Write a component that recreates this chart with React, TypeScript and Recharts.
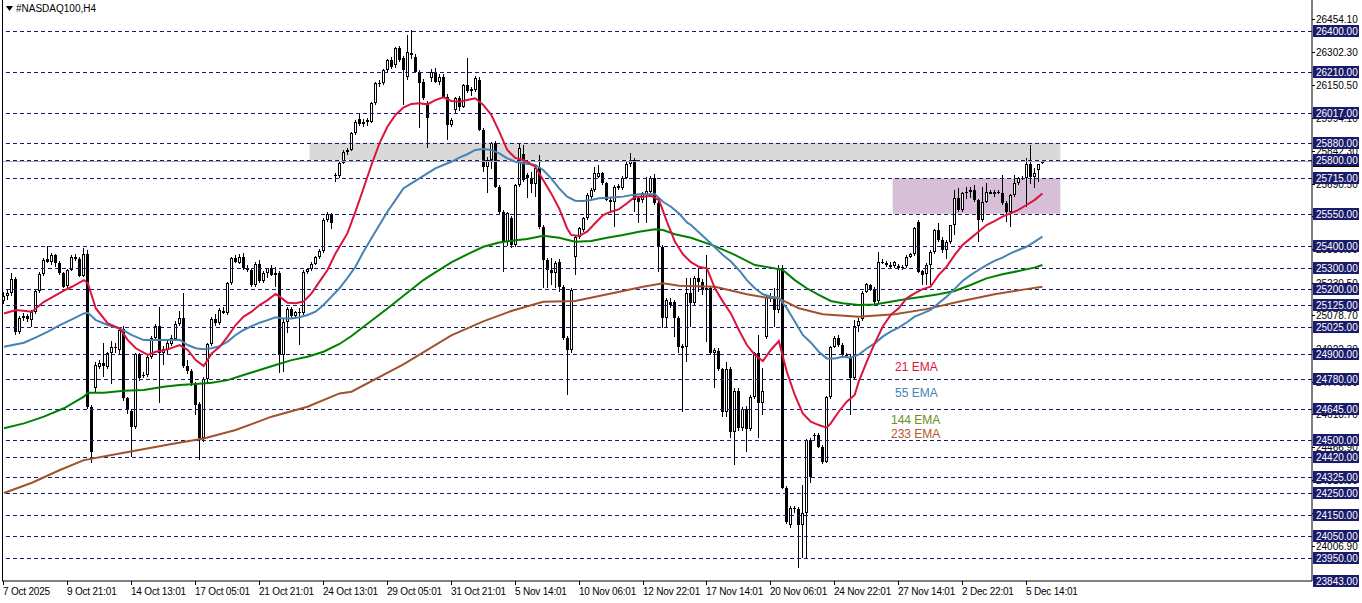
import React from 'react';
import { ComposedChart, Bar, Line, XAxis, YAxis, ReferenceLine, ReferenceArea } from 'recharts';

// ---- OHLC (H4 bars, index 0 = 7 Oct 2025) ----
const opens = [25145,25170,25180,25245,25002,25064,25075,25058,25095,25190,25270,25340,25325,25358,25322,25276,25215,25290,25348,25340,25262,25363,24650,24739,24840,24855,24840,24905,24930,24915,25013,24692,24633,24560,24898,24795,24800,24886,24971,25028,24905,24918,24945,24970,25040,25064,24842,24819,24757,24664,24506,24780,24945,25060,25041,25100,25090,25227,25343,25323,25351,25297,25289,25219,25315,25239,25275,25297,25266,25273,24894,25049,25106,25075,25095,25087,25281,25292,25317,25348,25377,25521,25549,25726,25726,25785,25839,25847,25924,25990,25966,25975,25979,26064,26157,26160,26219,26265,26240,26319,26273,26188,26300,26281,26211,26161,26064,26180,26211,26164,26188,26095,25963,26033,26087,26045,26149,26120,26126,26170,25940,25769,25800,25878,25676,25560,25421,25529,25405,25684,25830,25730,25715,25690,25769,25490,25335,25289,25273,25327,25211,24971,24917,25351,25444,25475,25529,25630,25661,25723,25738,25692,25614,25607,25672,25668,25718,25780,25800,25622,25614,25637,25653,25715,25599,25397,25064,25141,25141,25064,24935,24932,25180,25134,25253,25235,25196,25204,24901,24912,24828,24627,24828,24534,24726,24553,24643,24549,24700,24901,24669,24979,25170,25160,25103,25297,24274,24103,24181,24177,24103,24157,24498,24515,24522,24467,24398,24700,24932,24971,24940,24894,24886,24788,25030,25060,25188,25219,25200,25145,25327,25320,25312,25309,25309,25304,25309,25351,25362,25510,25284,25269,25312,25374,25475,25428,25382,25420,25498,25622,25568,25645,25653,25661,25614,25521,25606,25650,25644,25650,25645,25599,25560,25637,25692,25715,25715,25780,25723,25754,25788];
const highs = [25185,25195,25275,25255,25075,25090,25085,25105,25200,25280,25345,25400,25370,25365,25330,25280,25295,25360,25365,25350,25390,25380,24660,24860,24870,24948,24910,24960,24950,25020,25030,24700,24645,24905,24905,24815,24895,24980,25040,25118,24935,24960,24985,25050,25100,25180,24870,24830,24770,24675,24790,24950,25070,25085,25110,25115,25235,25350,25360,25365,25370,25310,25300,25325,25335,25285,25300,25310,25304,25285,25060,25115,25115,25100,25110,25290,25300,25325,25355,25385,25530,25560,25556,25740,25790,25845,25855,25930,25985,26017,25990,25995,26070,26165,26170,26225,26270,26280,26325,26330,26285,26381,26405,26295,26220,26175,26075,26225,26230,26200,26200,26105,25995,26095,26100,26155,26273,26140,26190,26185,25950,25815,25885,25890,25685,25570,25560,25540,25690,25873,25870,25740,25746,25770,25823,25500,25345,25343,25330,25340,25220,24980,25205,25450,25490,25535,25645,25670,25769,25777,25745,25700,25625,25685,25690,25725,25790,25831,25810,25630,25650,25723,25725,25735,25610,25405,25160,25157,25150,25075,24945,25250,25250,25260,25297,25245,25359,25215,24925,24925,24835,24863,24840,24740,24740,24650,24655,24710,24910,24987,24832,25170,25180,25204,25312,25312,24285,24190,24190,24185,24289,24505,24510,24530,24530,24475,24705,24935,24980,24985,24950,24905,24900,25055,25065,25190,25230,25225,25210,25374,25340,25330,25325,25330,25315,25310,25360,25370,25490,25520,25290,25320,25380,25480,25506,25440,25430,25500,25660,25668,25650,25676,25676,25684,25620,25676,25692,25660,25660,25660,25730,25610,25640,25730,25720,25725,25808,25870,25761,25782,25800];
const lows = [25130,25150,25170,24985,24990,25050,25045,25025,25085,25180,25260,25320,25310,25305,25265,25205,25205,25285,25330,25255,25255,24645,24390,24720,24830,24793,24830,24760,24905,24900,24680,24620,24421,24550,24775,24785,24790,24875,24960,24669,24845,24900,24935,24960,25030,24835,24805,24750,24615,24405,24490,24760,24935,25030,25035,25085,25080,25220,25320,25315,25290,25280,25210,25210,25230,25230,25250,25260,25211,24810,24815,24997,25065,25060,24940,25080,25270,25285,25310,25340,25370,25510,25480,25700,25715,25780,25825,25840,25915,25960,25955,25960,25970,26055,26140,26150,26210,26225,26230,26255,26056,26170,26270,26205,25947,26080,25855,26165,26160,26150,26090,25893,25955,26020,26030,26040,26110,26100,26115,25935,25746,25645,25760,25670,25550,25281,25400,25390,25395,25675,25700,25622,25645,25630,25480,25203,25203,25219,25203,25188,24965,24707,24905,25265,25435,25465,25520,25620,25650,25715,25685,25610,25560,25490,25660,25660,25710,25770,25560,25506,25600,25506,25645,25590,25280,25017,25017,25110,24979,24901,24630,24862,25025,25120,25188,25173,24956,24895,24739,24820,24607,24607,24509,24382,24540,24540,24444,24540,24690,24506,24615,24970,25140,25025,25090,24270,24110,24090,24160,23902,23948,23950,24300,24500,24460,24385,24390,24690,24925,24930,24890,24880,24615,24780,25000,25050,25180,25190,25130,25135,25315,25305,25300,25300,25290,25290,25300,25345,25355,25275,25220,25220,25220,25365,25420,25370,25340,25410,25452,25560,25560,25620,25622,25605,25420,25513,25600,25640,25630,25640,25590,25513,25490,25630,25685,25705,25583,25690,25670,25700,25780];
const closes = [25170,25180,25245,25002,25064,25075,25060,25095,25193,25270,25335,25328,25358,25320,25274,25211,25289,25348,25340,25262,25363,24653,24444,24847,24855,24842,24901,24930,24925,25010,24692,24638,24560,24898,24785,24803,24886,24971,25028,24901,24920,24948,24971,25040,25064,24842,24819,24762,24661,24506,24780,24945,25060,25041,25103,25090,25227,25343,25328,25351,25297,25289,25219,25315,25239,25276,25297,25266,25273,24894,25049,25106,25075,25095,25087,25281,25292,25317,25348,25377,25521,25549,25506,25731,25785,25839,25847,25924,25979,25966,25975,25986,26064,26157,26152,26219,26265,26234,26319,26265,26219,26304,26290,26211,26157,26087,25997,26211,26164,26188,26095,25963,25986,26087,26045,26149,26120,26130,26180,25940,25769,25800,25878,25676,25560,25421,25552,25405,25684,25855,25707,25715,25690,25761,25490,25335,25289,25273,25320,25211,24971,24917,25196,25444,25482,25529,25637,25661,25738,25738,25692,25614,25607,25676,25681,25718,25780,25800,25614,25607,25645,25656,25715,25599,25397,25064,25149,25125,25064,24932,24928,25180,25134,25253,25235,25196,25204,24901,24917,24828,24627,24828,24534,24726,24553,24643,24549,24700,24901,24669,24726,25165,25160,25103,25297,24274,24119,24181,24177,24103,24157,24498,24328,24522,24467,24398,24700,24932,24971,24940,24894,24890,24788,25030,25050,25180,25222,25196,25141,25327,25320,25312,25304,25324,25296,25296,25351,25362,25482,25281,25265,25312,25374,25475,25428,25382,25420,25498,25622,25568,25645,25653,25661,25614,25521,25606,25650,25641,25650,25653,25599,25560,25637,25692,25715,25710,25780,25723,25738,25782,25796];

// ---- moving averages, sampled [barIndex, value] ----
const ema21: [number, number][] = [[0,25087],[3,25103],[7,25095],[10,25141],[15,25193],[17,25211],[20,25242],[21,25227],[23,25110],[26,25041],[29,25017],[31,24963],[33,24925],[36,24894],[38,24909],[41,24920],[44,24940],[46,24917],[48,24870],[50,24842],[52,24901],[54,24932],[56,24979],[58,25033],[60,25072],[62,25095],[64,25126],[66,25149],[68,25177],[69,25165],[71,25137],[73,25134],[75,25142],[77,25180],[79,25235],[81,25289],[83,25366],[85,25428],[86,25460],[88,25560],[90,25668],[92,25777],[94,25878],[96,25955],[98,26010],[100,26044],[102,26061],[104,26064],[106,26059],[108,26079],[110,26092],[112,26075],[114,26071],[116,26079],[118,26087],[120,26056],[122,26010],[124,25932],[126,25847],[128,25810],[130,25800],[131,25792],[133,25769],[135,25707],[137,25645],[139,25575],[141,25482],[142,25452],[144,25447],[146,25467],[148,25506],[150,25544],[152,25560],[154,25572],[156,25599],[158,25630],[160,25630],[162,25634],[164,25614],[166,25513],[168,25420],[170,25362],[172,25325],[174,25304],[176,25297],[178,25204],[180,25142],[182,25087],[184,25010],[186,24940],[188,24894],[190,24866],[192,24917],[194,24959],[196,24816],[198,24708],[200,24622],[202,24584],[204,24568],[206,24556],[207,24576],[209,24630],[211,24677],[213,24708],[214,24770],[216,24862],[218,24948],[220,25025],[222,25080],[224,25111],[226,25157],[228,25180],[230,25200],[232,25211],[234,25265],[236,25304],[238,25358],[240,25405],[242,25436],[244,25467],[246,25498],[248,25516],[250,25537],[252,25552],[254,25568],[256,25591],[258,25614],[260,25645]];
const ema55: [number, number][] = [[0,24932],[5,24951],[8,24976],[11,25002],[14,25033],[17,25059],[20,25087],[21,25090],[23,25056],[26,25033],[29,25017],[32,24986],[35,24963],[38,24963],[41,24963],[44,24965],[46,24940],[48,24925],[50,24920],[52,24925],[54,24935],[56,24956],[58,24987],[60,25010],[62,25028],[64,25044],[66,25056],[68,25069],[70,25064],[72,25064],[74,25069],[76,25080],[78,25095],[80,25126],[82,25165],[84,25204],[86,25252],[88,25304],[90,25374],[92,25436],[94,25498],[96,25560],[98,25614],[100,25668],[102,25692],[104,25715],[106,25738],[108,25761],[110,25777],[112,25792],[114,25811],[116,25827],[118,25847],[120,25851],[122,25847],[124,25831],[126,25808],[128,25792],[130,25785],[133,25777],[135,25754],[137,25715],[139,25668],[141,25630],[143,25611],[145,25610],[147,25614],[149,25622],[151,25625],[153,25627],[155,25630],[157,25637],[159,25641],[161,25641],[163,25641],[165,25606],[167,25583],[169,25552],[171,25510],[172,25498],[176,25430],[180,25359],[182,25328],[184,25289],[186,25242],[188,25204],[190,25176],[192,25165],[194,25160],[196,25111],[198,25049],[200,24987],[202,24952],[204,24909],[206,24878],[208,24878],[210,24886],[212,24881],[214,24895],[216,24924],[218,24948],[220,24979],[222,25002],[224,25021],[226,25045],[228,25072],[230,25087],[232,25103],[234,25134],[236,25165],[238,25200],[240,25238],[242,25265],[244,25289],[246,25312],[248,25331],[250,25346],[252,25366],[254,25382],[256,25397],[258,25420],[260,25444]];
const ema144: [number, number][] = [[0,24553],[5,24576],[10,24607],[15,24646],[20,24700],[21,24718],[25,24718],[30,24728],[35,24731],[40,24746],[44,24754],[48,24759],[52,24765],[56,24777],[60,24801],[64,24824],[68,24847],[72,24870],[76,24886],[80,24909],[84,24945],[87,24982],[96,25110],[105,25242],[108,25278],[112,25324],[116,25362],[120,25397],[124,25417],[128,25427],[131,25433],[135,25448],[139,25439],[143,25420],[147,25424],[151,25439],[155,25452],[159,25467],[163,25478],[165,25475],[168,25455],[172,25439],[178,25400],[183,25359],[188,25312],[192,25300],[195,25289],[198,25242],[201,25204],[204,25173],[207,25145],[210,25134],[214,25126],[218,25129],[222,25141],[226,25154],[230,25165],[234,25176],[238,25191],[242,25219],[246,25250],[250,25269],[254,25284],[258,25300],[260,25312]];
const ema233: [number, number][] = [[0,24252],[7,24300],[14,24359],[20,24405],[29,24436],[42,24480],[50,24506],[58,24545],[67,24607],[76,24653],[84,24715],[87,24723],[100,24850],[112,24985],[120,25050],[127,25098],[135,25141],[143,25145],[152,25180],[160,25211],[165,25227],[169,25216],[178,25211],[186,25176],[191,25160],[194,25157],[199,25111],[205,25083],[214,25072],[223,25083],[231,25107],[239,25141],[248,25176],[256,25200],[260,25211]];

// ---- horizontal levels & price scale labels ----
const levels = [26400,26210,26017,25880,25800,25715,25550,25400,25300,25200,25125,25025,24900,24780,24645,24500,24420,24325,24250,24150,24050,23950];
const autoPriceLabels = [26454.1,26302.3,26150.5,25994.1,25842.3,25690.5,25538.7,25386.9,25230.5,25078.7,24922.3,24770.5,24618.7,24466.9,24310.5,24158.7,24006.9];
const bidPrice = 25795.2;
const bottomPrice = 23843.1;
const topPrice = 26544.1;
const greyZone = [25800, 25880];
const purpleZone = [25550, 25715];

// ---- time axis ----
const tickIdx = [0,16,32,48,64,80,96,112,128,144,160,176,192,208,224,240,256];
const tickLabels = ['7 Oct 2025','9 Oct 21:01','14 Oct 13:01','17 Oct 05:01','21 Oct 21:01','24 Oct 13:01','29 Oct 05:01','31 Oct 21:01','5 Nov 14:01','10 Nov 06:01','12 Nov 22:01','17 Nov 14:01','20 Nov 06:01','24 Nov 22:01','27 Nov 14:01','2 Dec 22:01','5 Dec 14:01'];
const TOTAL_SLOTS = 328;

const data: any[] = Array.from({ length: TOTAL_SLOTS }, (_, i) => {
  const row: any = { i };
  if (i < opens.length) {
    row.o = opens[i]; row.h = highs[i]; row.l = lows[i]; row.c = closes[i];
    row.range = [lows[i], highs[i]];
  }
  return row;
});
ema21.forEach(([k, v]) => { data[k].e21 = v; });
ema55.forEach(([k, v]) => { data[k].e55 = v; });
ema144.forEach(([k, v]) => { data[k].e144 = v; });
ema233.forEach(([k, v]) => { data[k].e233 = v; });

const FONT = '"Liberation Sans", Arial, sans-serif';
const NAVY = '#1b1b6b';
const levelSet = new Set(levels);

const Candle = (props: any) => {
  const { x, y, width, height, payload } = props;
  if (!payload || payload.h == null || !isFinite(y) || !isFinite(height)) return null;
  const { o, h, l, c } = payload;
  const top0 = Math.min(y, y + height);
  const hh = Math.abs(height);
  const ppu = h > l ? hh / (h - l) : 0;
  const cx = Math.floor(x + width / 2) + 0.5;
  const yO = top0 + (h - o) * ppu;
  const yC = top0 + (h - c) * ppu;
  const bt = Math.round(Math.min(yO, yC));
  const bb = Math.round(Math.max(yO, yC));
  const bull = c >= o;
  return (
    <g>
      <line x1={cx} x2={cx} y1={Math.round(top0)} y2={Math.round(top0 + hh)} stroke="#000" strokeWidth={1} />
      {bull ? (
        bb - bt > 1 ? (
          <rect x={cx - 1} y={bt + 0.5} width={2} height={bb - bt - 1} fill="#fff" stroke="#000" strokeWidth={1} />
        ) : (
          <line x1={cx - 1.5} x2={cx + 1.5} y1={bt + 0.5} y2={bt + 0.5} stroke="#000" strokeWidth={1} />
        )
      ) : (
        <rect x={cx - 1.5} y={bt} width={3} height={Math.max(bb - bt, 1)} fill="#000" />
      )}
    </g>
  );
};

const PriceTick = (props: any) => {
  const { y, payload } = props;
  const v = payload.value;
  const yy = Math.round(y);
  if (levelSet.has(v) || v === bottomPrice) {
    const label = v === bottomPrice ? '23843.00' : v.toFixed(2);
    return (
      <g>
        <rect x={1313} y={yy - 6} width={46} height={12} fill={NAVY} />
        <text x={1316} y={yy} dominantBaseline="central" fontSize={10} fontFamily={FONT} fill="#fff">{label}</text>
      </g>
    );
  }
  if (v === bidPrice) {
    return <rect x={1313} y={yy - 6} width={46} height={12} fill="#000" />;
  }
  return (
    <g>
      <line x1={1312} x2={1315} y1={yy + 0.5} y2={yy + 0.5} stroke="#000" />
      <text x={1316} y={yy} dominantBaseline="central" fontSize={10} fontFamily={FONT} fill="#000">{v.toFixed(2)}</text>
    </g>
  );
};

const DateTick = (props: any) => {
  const { x, payload } = props;
  const idx = tickIdx.indexOf(payload.value);
  const tx = Math.floor(x) + 0.5;
  return (
    <g>
      <line x1={tx} x2={tx} y1={581} y2={585} stroke="#000" />
      <text x={tx - 0.5} y={591} dominantBaseline="central" fontSize={10} letterSpacing={-0.2} fontFamily={FONT} fill="#000">{idx >= 0 ? tickLabels[idx] : ''}</text>
    </g>
  );
};

const dashedShape = (p: any) => {
  const yy = Math.round(p.y1) + 0.5;
  return <line x1={p.x1} x2={p.x2} y1={yy} y2={yy} stroke={NAVY} strokeWidth={1} strokeDasharray="4 3" />;
};
const bidShape = (p: any) => {
  const yy = Math.round(p.y1) + 0.5;
  return <line x1={p.x1} x2={p.x2} y1={yy} y2={yy} stroke="#a8a8a8" strokeWidth={1} />;
};

const yTicks = [...autoPriceLabels, bidPrice, ...levels, bottomPrice];

export default function App() {
  return (
    <div style={{ position: 'absolute', left: 0, top: 0, width: 1362, height: 603, background: '#fff', overflow: 'hidden' }}>
      <ComposedChart width={1362} height={603} data={data} margin={{ top: 0, right: 0, bottom: 0, left: 2 }}>
        <XAxis dataKey="i" type="category" ticks={tickIdx} interval={0} height={22} tick={<DateTick />} tickLine={false} axisLine={{ stroke: '#000' }} />
        <YAxis orientation="right" width={50} type="number" domain={[bottomPrice, topPrice]} allowDataOverflow ticks={yTicks} interval={0} tick={<PriceTick />} tickLine={false} axisLine={{ stroke: '#000' }} />
        <ReferenceArea x1={77} x2={264} y1={greyZone[0]} y2={greyZone[1]} fill="#d9d9d9" fillOpacity={1} stroke="none" />
        <ReferenceArea x1={223} x2={264} y1={purpleZone[0]} y2={purpleZone[1]} fill="#d8bfd8" fillOpacity={1} stroke="none" />
        {levels.map((lv) => (
          <ReferenceLine key={lv} y={lv} shape={dashedShape} />
        ))}
        <ReferenceLine y={bidPrice} shape={bidShape} />
        <Bar dataKey="range" shape={<Candle />} isAnimationActive={false} />
        <Line dataKey="e233" type="linear" stroke="#a0522d" strokeWidth={2} dot={false} connectNulls isAnimationActive={false} />
        <Line dataKey="e144" type="linear" stroke="#008000" strokeWidth={2} dot={false} connectNulls isAnimationActive={false} />
        <Line dataKey="e55" type="linear" stroke="#4682b4" strokeWidth={2} dot={false} connectNulls isAnimationActive={false} />
        <Line dataKey="e21" type="linear" stroke="#dc143c" strokeWidth={2} dot={false} connectNulls isAnimationActive={false} />
      </ComposedChart>
      <div style={{ position: 'absolute', left: 2, top: 0, width: 1, height: 581, background: '#000' }} />
      <svg style={{ position: 'absolute', left: 6, top: 6 }} width={7} height={6}>
        <polygon points="0,0 7,0 3.5,5" fill="#000" />
      </svg>
      <div style={{ position: 'absolute', left: 16, top: 3, fontFamily: FONT, fontSize: 10, lineHeight: '12px', color: '#000' }}>#NASDAQ100,H4</div>
      <div style={{ position: 'absolute', left: 895, top: 359, fontFamily: FONT, fontSize: 12, lineHeight: '16px', color: '#dc143c' }}>21 EMA</div>
      <div style={{ position: 'absolute', left: 895, top: 385, fontFamily: FONT, fontSize: 12, lineHeight: '16px', color: '#4682b4' }}>55 EMA</div>
      <div style={{ position: 'absolute', left: 891, top: 412, fontFamily: FONT, fontSize: 12, lineHeight: '16px', color: '#6b8e23' }}>144 EMA</div>
      <div style={{ position: 'absolute', left: 891, top: 426, fontFamily: FONT, fontSize: 12, lineHeight: '16px', color: '#b5552b' }}>233 EMA</div>
    </div>
  );
}
